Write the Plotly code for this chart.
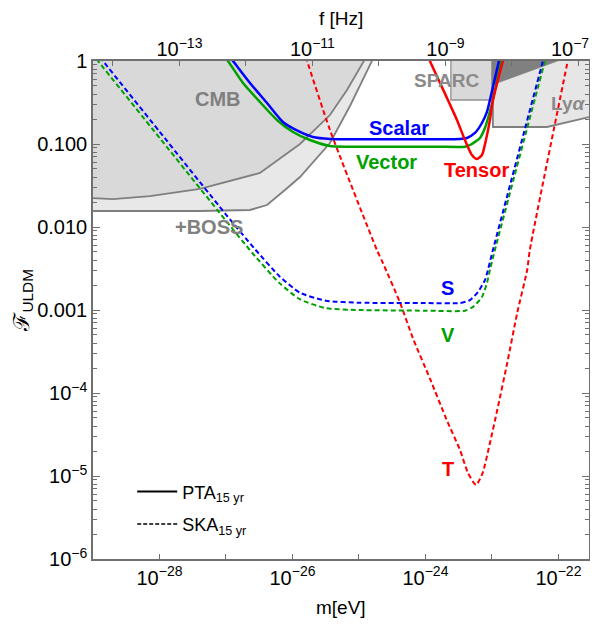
import numpy as np
import plotly.graph_objects as go

# ---------------- data (log10 values) ----------------
# axis ranges (log10)
m_range = [-29.0, -21.54]
F_range = [-6.0, 0.0]
f_offset = 14.7  # log10(f[Hz]) - log10(m[eV])

# excluded regions: boundaries (log10 m, log10 F)
boss_logm = [-29.5, -29.0, -27.391, -26.639, -26.383, -26.113, -25.887, -25.436, -25.135, -24.805, -24.78, -29.5]
boss_logF = [-1.807, -1.807, -1.807, -1.795, -1.735, -1.554, -1.398, -0.988, -0.542, 0.0, 0.1, 0.1]

cmb_logm = [-29.5, -29.0, -28.699, -28.143, -27.391, -26.489, -25.887, -25.436, -25.18, -24.925, -24.9, -29.5]
cmb_logF = [-1.651, -1.651, -1.663, -1.627, -1.542, -1.349, -1.0, -0.651, -0.349, 0.0, 0.1, 0.1]

sparc_logm = [-23.617, -23.617, -23.0, -23.0, -23.617]
sparc_logF = [0.1, -0.47, -0.47, 0.1, 0.1]

lya_logm = [-22.985, -22.985, -22.173, -21.9, -21.54, -21.0, -21.0, -22.985]
lya_logF = [0.1, -0.795, -0.795, -0.747, -0.675, -0.65, 0.1, 0.1]

dark_logm = [-23.0, -23.0, -20.3, -23.0]
dark_logF = [0.5, -0.289, 0.5, 0.5]

# PTA 15 yr (solid)
scalar_pta_logm = [-27.0, -26.895, -26.639, -26.383, -26.143, -25.887, -25.692, -25.436, -25.0, -24.383, -23.8,
                   -23.48, -23.376, -23.256, -23.150, -23.075, -23.030, -22.895, -22.87]
scalar_pta_logF = [0.105, 0.0, -0.265, -0.506, -0.735, -0.855, -0.916, -0.940, -0.943, -0.943, -0.943,
                   -0.940, -0.928, -0.867, -0.747, -0.614, -0.470, 0.0, 0.09]

vector_pta_logm = [-27.07, -26.970, -26.744, -26.489, -26.233, -25.992, -25.737, -25.436, -25.0, -24.383, -23.8,
                   -23.406, -23.331, -23.180, -23.105, -23.045, -22.985, -22.865, -22.84]
vector_pta_logF = [0.1, 0.0, -0.265, -0.494, -0.711, -0.855, -0.952, -1.024, -1.033, -1.033, -1.033,
                   -1.033, -1.012, -0.928, -0.807, -0.651, -0.470, 0.0, 0.09]

tensor_pta_logm = [-23.95, -23.932, -23.662, -23.526, -23.406, -23.301, -23.226, -23.150, -23.090, -23.030,
                   -22.985, -22.835, -22.82]
tensor_pta_logF = [0.04, 0.0, -0.470, -0.711, -0.952, -1.133, -1.181, -1.133, -0.952, -0.711,
                   -0.470, 0.0, 0.05]

# SKA 15 yr (dashed)
scalar_ska_logm = [-29.05, -28.85, -28.0, -27.0, -26.56, -26.2, -25.89, -25.5, -25.0, -24.0, -23.48,
                   -23.33, -23.21, -23.105, -23.06, -22.985, -22.233, -22.2]
scalar_ska_logF = [0.2, 0.0, -0.85, -1.85, -2.27, -2.59, -2.79, -2.888, -2.912, -2.916, -2.916,
                   -2.88, -2.783, -2.639, -2.518, -2.277, 0.0, 0.1]

vector_ska_logm = [-29.1, -28.925, -28.0, -27.0, -26.6, -26.2, -25.89, -25.5, -25.0, -24.0, -23.406,
                   -23.286, -23.15, -23.075, -23.03, -22.955, -22.203, -22.17]
vector_ska_logF = [0.175, 0.0, -0.925, -1.925, -2.316, -2.673, -2.87, -2.978, -3.0, -3.008, -3.008,
                   -2.964, -2.843, -2.675, -2.518, -2.277, 0.0, 0.1]

tensor_ska_logm = [-25.8, -25.78, -25.436, -24.73, -24.64, -24.38, -24.19, -23.93, -23.68, -23.48, -23.36,
                   -23.24, -23.14, -23.03, -22.92, -22.77, -22.62, -22.47, -22.43, -21.86, -21.84]
tensor_ska_logF = [0.05, 0.0, -0.831, -2.277, -2.434, -2.916, -3.337, -3.831, -4.325, -4.687, -4.964,
                   -5.108, -4.964, -4.602, -4.205, -3.639, -3.036, -2.518, -2.277, 0.0, 0.08]

# tick labels
m_tick_exps = [-29, -28, -27, -26, -25, -24, -23, -22]
m_tick_labels = ["", "10<sup>−28</sup>", "", "10<sup>−26</sup>", "", "10<sup>−24</sup>", "", "10<sup>−22</sup>"]
f_tick_exps = [-14, -13, -12, -11, -10, -9, -8, -7]
f_tick_labels = ["", "10<sup>−13</sup>", "", "10<sup>−11</sup>", "", "10<sup>−9</sup>", "",
                 "10<sup>−7</sup>\u00a0\u00a0\u00a0"]
F_tick_exps = [0, -1, -2, -3, -4, -5, -6]
F_tick_labels = ["1", "0.100", "0.010", "0.001", "10<sup>−4</sup>", "10<sup>−5</sup>", "10<sup>−6</sup>"]

# ---------------- figure ----------------
def p(v):
    return [10.0 ** x for x in v]

GRAY_LINE = "#7f7f7f"
BLUE = "#0000ff"
GREEN = "#00a000"
RED = "#ff0000"
FONT = "Liberation Sans, Arial, sans-serif"

fig = go.Figure()

def region(lm, lF, fill, line_color, lw=1.8):
    fig.add_trace(go.Scatter(x=p(lm), y=p(lF), mode="lines", fill="toself", fillcolor=fill,
                             line=dict(color=line_color, width=lw), showlegend=False, hoverinfo="skip"))

region(boss_logm, boss_logF, "#e8e8e8", GRAY_LINE)
region(cmb_logm, cmb_logF, "#d9d9d9", GRAY_LINE)
region(lya_logm, lya_logF, "#e6e6e6", GRAY_LINE)
region(sparc_logm, sparc_logF, "#d9d9d9", "#909090", 1.3)
region(dark_logm, dark_logF, "#808080", "#808080", 0.5)

def curve(lm, lF, color, dash, width):
    fig.add_trace(go.Scatter(x=p(lm), y=p(lF), mode="lines",
                             line=dict(color=color, width=width, dash=dash, shape="spline", smoothing=0.6),
                             showlegend=False, hoverinfo="skip"))

curve(tensor_ska_logm, tensor_ska_logF, RED, "5px,3px", 2)
curve(vector_ska_logm, vector_ska_logF, GREEN, "5px,3px", 2)
curve(scalar_ska_logm, scalar_ska_logF, BLUE, "5px,3px", 2)
curve(vector_pta_logm, vector_pta_logF, GREEN, "solid", 2.5)
curve(scalar_pta_logm, scalar_pta_logF, BLUE, "solid", 2.5)
curve(tensor_pta_logm, tensor_pta_logF, RED, "solid", 2.5)

# legend entries
fig.add_trace(go.Scatter(x=[None], y=[None], mode="lines", name="PTA<sub>15 yr</sub>", legendgroup="a",
                         line=dict(color="black", width=2)))
fig.add_trace(go.Scatter(x=[None], y=[None], mode="lines", name="SKA<sub>15 yr</sub>", legendgroup="b",
                         line=dict(color="black", width=1.5, dash="4px,2px")))

# invisible trace to activate top frequency axis
fig.add_trace(go.Scatter(x=[10 ** (m_range[0] + f_offset)], y=[1e-3], xaxis="x2", mode="markers",
                         marker=dict(opacity=0), showlegend=False, hoverinfo="skip"))

# text labels
def label(lm, lF, text, color, size=20, bold=True):
    t = "<b>" + text + "</b>" if bold else text
    fig.add_annotation(x=lm, y=lF, xref="x", yref="y", text=t, showarrow=False,
                       xanchor="center", yanchor="middle",
                       font=dict(family=FONT, size=size, color=color))

label(-27.12, -0.458, "CMB", "#808080")
label(-27.256, -2.0, "+BOSS", "#808080")
label(-23.684, -0.229, "SPARC", "#8a8a8a", 19)
label(-21.86, -0.506, "Ly<i>α</i>", "#8a8a8a", 19)
label(-24.398, -0.807, "Scalar", BLUE)
label(-24.579, -1.217, "Vector", GREEN)
label(-23.226, -1.313, "Tensor", RED)
label(-23.662, -2.735, "S", BLUE)
label(-23.662, -3.301, "V", GREEN)
label(-23.662, -4.916, "T", RED)

# axis titles
def title(x, y, text, size, angle=0):
    fig.add_annotation(x=x, y=y, xref="paper", yref="paper", text=text, showarrow=False,
                       xanchor="center", yanchor="middle", textangle=angle,
                       font=dict(family=FONT, size=size, color="black"))

title(0.5, -0.0964, "m[eV]", 19)
title(0.5, 1.085, "f [Hz]", 19)
title(-0.142, 0.52, "ℱ<sub>ULDM</sub>", 22, -90)

minor_F = [k * 10.0 ** e for e in range(-6, 0) for k in range(2, 10)]

axis_common = dict(showgrid=False, zeroline=False, linecolor="#707070", linewidth=1.5, automargin=False,
                   tickcolor="#707070", tickfont=dict(family=FONT, size=20, color="black"))

fig.update_layout(
    width=590, height=612,
    margin=dict(l=85, r=9, t=53, b=61, autoexpand=False),
    plot_bgcolor="white", paper_bgcolor="white",
    font=dict(family=FONT),
    xaxis=dict(type="log", range=m_range, tickmode="array",
               tickvals=[10.0 ** e for e in m_tick_exps], ticktext=m_tick_labels,
               ticks="inside", ticklen=5, tickwidth=1, mirror=True, showline=True, **axis_common),
    xaxis2=dict(type="log", range=[m_range[0] + f_offset, m_range[1] + f_offset], overlaying="x", side="top",
                tickmode="array", tickvals=[10.0 ** e for e in f_tick_exps], ticktext=f_tick_labels,
                ticklabeloverflow="allow",
                ticks="inside", ticklen=5, tickwidth=1, showline=False, **axis_common),
    yaxis=dict(type="log", range=F_range, tickmode="array",
               tickvals=[10.0 ** e for e in F_tick_exps], ticktext=F_tick_labels,
               ticks="inside", ticklen=7, tickwidth=1, mirror="ticks", showline=True,
               minor=dict(ticks="inside", ticklen=4, tickvals=minor_F, tickcolor="#707070"),
               **axis_common),
    legend=dict(x=0.079, y=0.172, xanchor="left", yanchor="top", bgcolor="rgba(0,0,0,0)",
                font=dict(family=FONT, size=18, color="black"), tracegroupgap=6, itemwidth=40),
    showlegend=True,
)

fig.write_html("out.html")
